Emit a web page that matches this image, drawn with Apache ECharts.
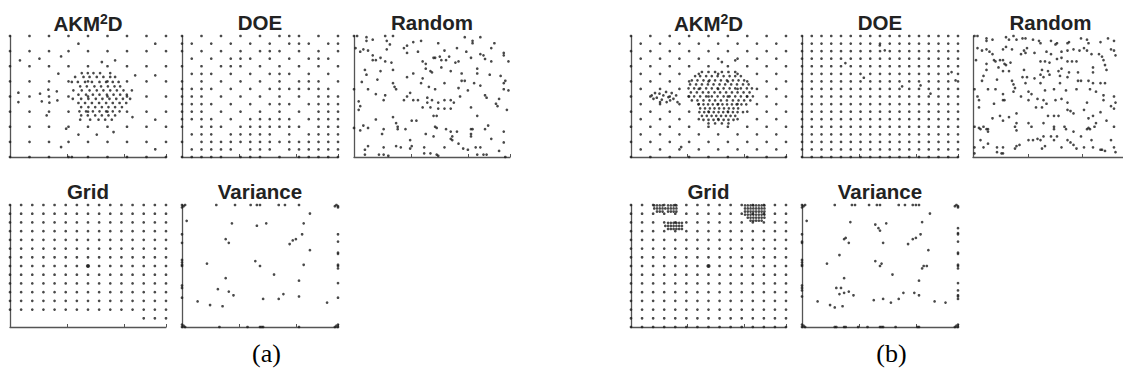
<!DOCTYPE html>
<html><head><meta charset="utf-8">
<script src="https://cdn.jsdelivr.net/npm/echarts@6/dist/echarts.min.js"></script>
<style>html,body{margin:0;padding:0;background:#fff}#c{width:1123px;height:375px}</style>
</head><body><div id="c"></div>
<script>
// ---------------- DATA ----------------
// Panel titles and captions
const titlesA = ['AKM2D', 'DOE', 'Random', 'Grid', 'Variance'];
const titlesB = ['AKM2D', 'DOE', 'Random', 'Grid', 'Variance'];
const captions = ['(a)', '(b)'];

// AKM2D (domain 0..8) : initial lattice masks (rows from top y=8 to y=0)
const akmA_lattice = ["111111111","111111111","111111111","111111111","111111111","111111111","111111111","111111111","111111111"];
const akmA_extra = [[3.51,7.49],[7.45,7.49],[0.51,6.39],[1.51,6.5],[2.62,6.65],[4.71,6.28],[5.39,6.39],[2.48,5.51],[6.42,5.4],[7.45,5.4],
 [0.43,4.25],[0.43,3.63],[1.54,4.19],[1.63,3.68],[1.97,4.45],[2.02,3.59],[2.4,4.34],[2.43,3.74],[1.88,2.75],[6.28,2.64],[7.45,2.47],
 [2.88,1.87],[3.51,1.48],[4.45,1.48],[5.31,1.65],[2.62,0.66],[7.45,0.51],[3.17,0]];
// refined cluster, rows: [y, [x...]]
const akmA_cluster = [
 [5.55,[3.68,3.99,4.28,4.62,5.14]],
 [5.29,[3.34,3.77,4.08,4.45,4.79,5.14,5.39]],
 [4.96,[3.17,3.48,3.85,4.20,4.59,4.93,5.27,5.57]],
 [4.67,[3.60,3.94,4.33,4.67,5.02,5.36,5.65]],
 [4.41,[3.25,3.68,4.08,4.45,4.79,5.14,5.48,5.82,6.25]],
 [4.12,[3.51,3.90,4.25,4.59,4.97,5.31,5.65,5.99]],
 [3.85,[3.22,3.65,4.02,4.40,4.74,5.10,5.45,5.79,6.16]],
 [3.57,[3.51,3.85,4.20,4.57,4.93,5.27,5.62,5.96]],
 [3.30,[3.65,4.02,4.37,4.71,5.05,5.39,5.74]],
 [3.02,[3.56,3.90,4.25,4.59,4.93,5.27,5.62]],
 [2.75,[3.65,3.99,4.37,4.71,5.05,5.39]],
 [2.47,[3.60,4.11,4.54,4.88,5.22]]
];

const akmB_lattice = ["111111111","111111111","111111111","111111111","111111111","111111111","111111111","111111111","111111111"];
const akmB_stagger = ["11111111","11111111","11111111","11111111","11111111","11111111","11111111","11111111"];
const akmB_left = [[1.07,4.07],[1.24,4.23],[1.33,3.92],[1.47,4.19],[1.59,3.79],[1.67,4.07],[1.81,4.30],[1.93,3.96],[2.02,3.74],
 [2.10,4.23],[2.19,3.85],[2.33,4.07],[2.40,3.63],[1.16,3.85],[1.50,3.63],[1.84,3.63],[2.59,0.66],[4.69,6.28],[5.38,6.39]];
const akmB_cluster = [
 [5.62,[3.66,4.00,4.34,4.69,5.03,5.38]],
 [5.35,[3.31,3.57,3.88,4.17,4.47,4.78,5.09,5.38,5.67]],
 [5.07,[3.14,3.43,3.74,4.05,4.34,4.64,4.95,5.26,5.55,5.84]],
 [4.80,[3.05,3.36,3.66,3.97,4.26,4.57,4.86,5.17,5.47,5.78,6.07]],
 [4.54,[2.97,3.26,3.57,3.88,4.17,4.47,4.78,5.09,5.38,5.67,5.98,6.24]],
 [4.27,[3.09,3.40,3.71,4.00,4.31,4.60,4.91,5.21,5.50,5.81,6.12]],
 [4.01,[2.97,3.26,3.57,3.88,4.17,4.47,4.78,5.09,5.38,5.67,5.98,6.29]],
 [3.74,[3.14,3.43,3.74,4.05,4.34,4.64,4.95,5.26,5.55,5.84,6.16]],
 [3.48,[3.48,3.74,3.98,4.22,4.47,4.72,4.96,5.21,5.45,5.70,5.95]],
 [3.22,[3.57,3.82,4.07,4.31,4.55,4.80,5.05,5.29,5.53]],
 [2.97,[3.53,3.78,4.02,4.27,4.52,4.76,5.01,5.26,5.50,5.78]],
 [2.72,[3.66,3.91,4.16,4.40,4.65,4.90,5.14,5.38]],
 [2.46,[3.74,4.00,4.26,4.52,4.78,5.03,5.29]],
 [2.22,[4.00,4.34,4.69,5.03]]
];

// DOE (domain 0..16): 17x17 lattice occupancy, rows from top (y=16) to y=0
const doeA_mask = [
 "10101010101110101","11010101010111011","10101010111010101","01010111010101110",
 "10101110101010101","01110101011101010","10101010101011101","11110101011111110",
 "11101010101010111","11110101011101111","11101010101010111","11110101111101111",
 "10111011111110111","01110111110101111","10111111111111111","01111101110111111",
 "11111011101011111"];
const doeB_mask = [
 "11111111111111111","11111111111111111","11111111111111111","11111111111111111",
 "11111111111111111","11111111111111111","11111111111111111","11111111111111111",
 "11111111111111111","11111111111111111","11111111111111111","11111111111111111",
 "11111111111111111","11111111111111111","11111111111111111","11111111111111111",
 "11111111111111111"];
const doeB_extra = [[7.98,14.76],[8.49,14.1],[4.45,12.42],[6.34,10.48],[10.27,9.34],[12.16,9.47],[13.18,8.37],[15.34,11.23],[15.75,10.13]];

// Random (domain 0..100)
const randA = [[0,100],[2,100],[8,99],[8,96],[12,97],[20,100],[21,96],[25,100],[23,93],[34,92],[38,95],[43,96],[54,94],[71,99],[76,96],[76,94],[81,99],[90,94],
 [1,90],[4,87],[6,89],[9,88],[12,84],[21,89],[32,90],[34,86],[41,87],[58,88],[66,90],[72,87],[81,85],[83,84],[88,90],[96,86],[96,84],
 [12,80],[14,80],[17,82],[20,79],[24,78],[44,79],[46,77],[51,82],[52,82],[55,83],[56,80],[59,80],[61,83],[65,78],[67,79],[75,82],[84,81],[88,79],[99,79],
 [17,71],[25,72],[7,72],[8,68],[5,62],[46,73],[49,71],[50,70],[56,74],[38,69],[34,66],[44,65],[62,71],[69,69],[79,73],[79,69],[87,68],[94,67],[15,64],
 [0,56],[9,56],[25,61],[26,58],[27,56],[43,61],[48,58],[52,56],[58,61],[67,57],[69,63],[71,63],[73,55],[77,61],[81,59],[97,63],[96,61],[96,56],[99,55],[14,52],[20,51],[36,53],[34,50],
 [3,46],[4,42],[19,47],[32,47],[38,47],[41,47],[47,49],[47,45],[44,41],[50,47],[54,45],[58,47],[58,40],[62,47],[64,45],[68,50],[84,51],[85,49],[92,42],[98,39],[93,48],[3,39],[49,41],[54,40],[62,40],[91,44],
 [25,33],[14,31],[51,34],[53,34],[75,41],[79,34],[37,30],[40,30],[27,28],[28,25],[6,26],[9,24],[0,24],[33,23],
 [4,22],[19,23],[28,23],[18,19],[46,19],[51,17],[52,25],[53,24],[59,23],[62,21],[63,17],[62,15],[63,14],[75,23],[76,23],[75,19],[66,21],[75,17],[84,23],[86,26],[88,15],[96,21],[96,12],
 [9,9],[7,6],[7,2],[16,2],[19,2],[19,8],[27,9],[30,8],[36,14],[37,9],[36,7],[45,8],[49,3],[53,2],[54,1],[58,8],[67,11],[70,7],[73,6],[78,8],[79,2],[81,8],[83,2],[85,2],[93,5],[97,0],[22,1],[45,3]];
const randB = [[1,100],[3,100],[9,98],[9,96],[13,97],[22,99],[24,97],[27,100],[29,97],[33,98],[35,98],[40,97],[44,96],[45,94],[52,96],[56,94],[55,93],[63,94],[64,95],[72,98],[76,97],[77,94],[85,95],[90,98],[94,96],
 [3,90],[6,88],[9,89],[11,87],[13,85],[2,80],[22,91],[20,89],[26,89],[32,85],[34,88],[36,90],[35,86],[41,86],[49,87],[52,85],[59,87],[63,88],[67,89],[71,88],[74,90],[76,88],[79,85],[84,85],[86,83],[92,89],[94,88],[95,84],
 [14,80],[15,79],[18,80],[20,80],[21,77],[22,76],[25,78],[17,74],[9,77],[9,72],[20,71],[24,71],[45,79],[48,79],[51,78],[56,81],[59,82],[63,79],[66,79],[69,79],[80,74],[87,80],[88,76],[89,72],[80,70],[34,72],[46,72],[50,71],[57,71],[59,73],[64,70],
 [7,67],[6,63],[16,64],[26,63],[27,60],[28,57],[33,66],[36,66],[41,65],[45,68],[47,66],[51,68],[58,67],[63,66],[70,63],[72,63],[77,63],[80,61],[85,61],[88,61],[70,70],[58,61],[45,61],[35,61],
 [1,56],[10,56],[15,56],[20,52],[21,47],[27,54],[37,54],[39,52],[48,55],[54,56],[62,55],[69,56],[78,56],[82,54],[87,51],[87,47],[94,50],[95,45],[3,50],[4,47],[4,41],[14,44],[20,47],[32,50],[37,47],[43,48],[47,47],[49,44],[55,47],[59,48],[63,45],[76,45],
 [24,33],[18,34],[42,41],[46,41],[50,34],[54,34],[57,34],[63,39],[65,38],[67,36],[74,39],[77,32],[80,34],[85,37],[92,42],[94,40],[29,36],[13,32],[5,23],
 [1,25],[4,24],[7,25],[9,23],[10,23],[10,21],[20,30],[29,28],[28,25],[29,22],[37,28],[39,25],[47,28],[54,25],[54,23],[62,23],[61,25],[67,21],[76,23],[77,24],[78,23],[81,25],[82,28],[89,30],[94,25],
 [5,14],[10,11],[7,8],[1,8],[1,3],[16,8],[20,8],[16,4],[19,3],[20,3],[28,7],[29,9],[31,10],[37,14],[40,14],[43,15],[45,14],[47,17],[48,9],[46,7],[54,14],[52,17],[56,17],[59,8],[63,14],[65,12],[67,10],[69,7],[72,17],[74,8],[79,14],[80,8],[85,6],[86,6],[88,5],[92,14],[94,8],[95,4]];

// Grid (domain 0..14): occupancy rows from top (y=14) to bottom (y=0)
const gridA_mask = ["111111111111111","111111111111111","111111111111111","111111111111111","111111111111111",
 "111111111111111","111111111111111","111111111111111","111111111111111","111111111111111",
 "111111111111111","111111111111111","111111111111111","000000000000111","000000000000000"];
const gridB_mask = ["111111111111111","111111111111111","111111111111111","111111111111111","111111111111111",
 "111111111111111","111111111111111","111111111111111","111111111111111","111111111111111",
 "111111111111111","111111111111111","111111111111111","111111111111111","111111111111111"];
const gridB_refine = [
 [13.95,[2.1,2.35,2.6,2.85,3.35,3.6,3.85,4.1]],
 [13.6,[2.1,2.35,2.6,2.85,3.1,3.35,3.6,3.85,4.1]],
 [13.25,[2.35,2.6,2.85,3.35,3.6,3.85,4.1]],
 [11.95,[3.35,3.6,3.85,4.1,4.35,4.6]],
 [11.6,[3.1,3.35,3.6,3.85,4.1,4.35,4.6]],
 [11.25,[3.35,3.6,3.85,4.1,4.35,4.6]],
 [13.95,[10.3,10.55,10.8,11.05,11.3,11.55,11.8,12.05]],
 [13.6,[10.3,10.55,10.8,11.05,11.3,11.55,11.8,12.05]],
 [13.25,[10.3,10.55,10.8,11.05,11.3,11.55,11.8,12.05]],
 [12.9,[10.3,10.55,10.8,11.05,11.3,11.55,11.8,12.05]],
 [12.55,[10.55,10.8,11.05,11.3,11.55,11.8,12.05]],
 [12.2,[10.8,11.05,11.3,11.55,11.8]]
];
const gridOptimum = [[7,7]];

// Variance (domain 0..100)
const varA = [[0,100],[1,99],[0,98],[2,100],[99,100],[100,99],[98,99],[100,98],[0,0],[1,1],[0,2],[2,0],[100,0],[99,1],[100,2],[98,0],
 [22,100],[34,100],[44,100],[48,100],[50,100],[62,100],[66,100],[75,100],
 [0,76],[0,69],[0,55],[0,53],[0,51],[0,50],[0,34],[0,32],[0,24],
 [100,76],[100,70],[100,61],[100,60],[100,51],[100,50],[100,48],[100,36],[100,24],
 [24,0],[42,0],[50,0],[51,0],[52,0],[75,0],
 [3,87],[32,85],[48,83],[54,85],[82,93],[78,85],[77,76],[73,72],[71,71],[69,68],[28,72],[30,69],[16,52],[47,54],[50,50],[82,63],[78,51],
 [59,43],[75,38],[28,40],[23,31],[30,29],[33,26],[10,21],[18,18],[26,17],[52,23],[62,23],[65,27],[75,25],[93,20]];
const varB = [[0,100],[1,99],[0,98],[2,100],[99,100],[100,99],[98,99],[100,98],[0,0],[1,1],[0,2],[2,0],[100,0],[99,1],[100,2],[98,0],
 [21,100],[32,100],[34,100],[43,100],[48,100],[50,100],[62,100],[66,100],[71,100],[73,100],[75,100],
 [0,76],[0,70],[0,69],[0,55],[0,53],[0,51],[0,50],[0,34],[0,32],[0,30],[0,25],
 [100,81],[100,77],[100,76],[100,70],[100,61],[100,60],[100,51],[100,50],[100,48],[100,36],[100,30],[100,26],[100,25],[100,23],
 [21,0],[22,0],[27,0],[28,0],[36,0],[42,0],[50,0],[51,0],[52,0],[60,0],[74,0],[75,0],
 [3,87],[31,86],[47,84],[49,81],[50,79],[54,85],[82,93],[77,86],[76,76],[73,73],[71,72],[68,68],[27,72],[28,73],[30,69],[24,59],[16,52],
 [47,54],[50,50],[51,52],[52,69],[81,63],[77,48],[78,50],[80,50],[58,43],[75,38],[27,40],[22,32],[25,32],[24,27],[27,28],[30,29],[33,26],
 [10,21],[18,18],[21,16],[26,17],[46,22],[52,23],[57,20],[62,23],[65,28],[72,28],[75,26],[85,21],[92,20]];

// ---------------- HELPERS ----------------
function fromMask(rows, yTop, dx) {
  const pts = [];
  rows.forEach((row, r) => { for (let c = 0; c < row.length; c++) if (row[c] === '1') pts.push([c + dx, yTop - r]); });
  return pts;
}
function fromRows(rows) { const pts = []; rows.forEach(([y, xs]) => xs.forEach(x => pts.push([x, y]))); return pts; }

// ---------------- LAYOUT ----------------
const TOP1 = 36, H1 = 121, TOP2 = 205, H2 = 122;
const panels = [
  {t: 0, set: 'A', left: 10,  top: TOP1, width: 156, height: H1, max: 8,
   data: fromMask(akmA_lattice, 8, 0).concat(akmA_extra, fromRows(akmA_cluster))},
  {t: 1, set: 'A', left: 182, top: TOP1, width: 156, height: H1, max: 16, data: fromMask(doeA_mask, 16, 0)},
  {t: 2, set: 'A', left: 354, top: TOP1, width: 156, height: H1, max: 100, data: randA},
  {t: 3, set: 'A', left: 10,  top: TOP2, width: 156, height: H2, max: 14, data: fromMask(gridA_mask, 14, 0), big: gridOptimum},
  {t: 4, set: 'A', left: 182, top: TOP2, width: 156, height: H2, max: 100, data: varA},
  {t: 0, set: 'B', left: 631, top: TOP1, width: 155, height: H1, max: 8,
   data: fromMask(akmB_lattice, 8, 0).concat(fromMask(akmB_stagger, 7.5, 0.5), akmB_left, fromRows(akmB_cluster))},
  {t: 1, set: 'B', left: 802, top: TOP1, width: 156, height: H1, max: 16, data: fromMask(doeB_mask, 16, 0).concat(doeB_extra)},
  {t: 2, set: 'B', left: 973, top: TOP1, width: 155, height: H1, max: 100, data: randB},
  {t: 3, set: 'B', left: 631, top: TOP2, width: 155, height: H2, max: 14, data: fromMask(gridB_mask, 14, 0).concat(fromRows(gridB_refine)), big: gridOptimum},
  {t: 4, set: 'B', left: 802, top: TOP2, width: 156, height: H2, max: 100, data: varB}
];

const axisColor = '#555';
const grids = [], xAxes = [], yAxes = [], series = [], graphics = [];
const titleFont = '"Liberation Sans", Arial, Helvetica, sans-serif';
panels.forEach((p, i) => {
  grids.push({left: p.left, top: p.top, width: p.width, height: p.height, containLabel: false});
  xAxes.push({gridIndex: i, type: 'value', min: 0, max: p.max, interval: p.max * 0.365,
    axisLine: {show: true, onZero: false, lineStyle: {color: axisColor, width: 1.3}},
    axisTick: {show: true, inside: true, length: 3, lineStyle: {color: axisColor, width: 1}},
    axisLabel: {show: false}, splitLine: {show: false}});
  yAxes.push({gridIndex: i, type: 'value', min: 0, max: p.max,
    axisLine: {show: true, onZero: false, lineStyle: {color: axisColor, width: 1.3}},
    axisTick: {show: false}, axisLabel: {show: false}, splitLine: {show: false}});
  series.push({type: 'scatter', xAxisIndex: i, yAxisIndex: i, data: p.data, symbol: 'circle', symbolSize: 2.7,
    itemStyle: {color: '#1c1c1c'}, silent: true, clip: false});
  if (p.big) series.push({type: 'scatter', xAxisIndex: i, yAxisIndex: i, data: p.big, symbol: 'circle', symbolSize: 4.2,
    itemStyle: {color: '#1c1c1c'}, silent: true, clip: false});
  const names = p.set === 'A' ? titlesA : titlesB;
  const name = names[p.t];
  const cx = p.left + p.width / 2;
  const cy = p.top - 13.5;
  if (name === 'AKM2D') {
    graphics.push({type: 'text', x: cx, y: cy, silent: true, style: {
      text: '{m|AKM}{s|2}{m|D}', textAlign: 'center', textVerticalAlign: 'middle',
      rich: {
        m: {fontFamily: titleFont, fontWeight: 'bold', fontSize: 20.5, lineHeight: 22, verticalAlign: 'bottom', fill: '#222', color: '#222'},
        s: {fontFamily: titleFont, fontWeight: 'bold', fontSize: 14, lineHeight: 14, verticalAlign: 'top', fill: '#222', color: '#222'}
      }}});
  } else {
    graphics.push({type: 'text', x: cx, y: cy, silent: true, style: {
      text: name, textAlign: 'center', textVerticalAlign: 'middle',
      fontFamily: titleFont, fontWeight: 'bold', fontSize: 20.5, fill: '#222'}});
  }
});
graphics.push({type: 'text', x: 266.5, y: 353, silent: true, style: {text: captions[0], textAlign: 'center', textVerticalAlign: 'middle',
  fontFamily: '"Liberation Serif", "Times New Roman", serif', fontSize: 26, fill: '#000'}});
graphics.push({type: 'text', x: 891.5, y: 353, silent: true, style: {text: captions[1], textAlign: 'center', textVerticalAlign: 'middle',
  fontFamily: '"Liberation Serif", "Times New Roman", serif', fontSize: 26, fill: '#000'}});

const chart = echarts.init(document.getElementById('c'), null, {renderer: 'svg'});
chart.setOption({
  animation: false,
  backgroundColor: '#fff',
  grid: grids, xAxis: xAxes, yAxis: yAxes, series: series,
  graphic: {elements: graphics}
});
</script></body></html>
